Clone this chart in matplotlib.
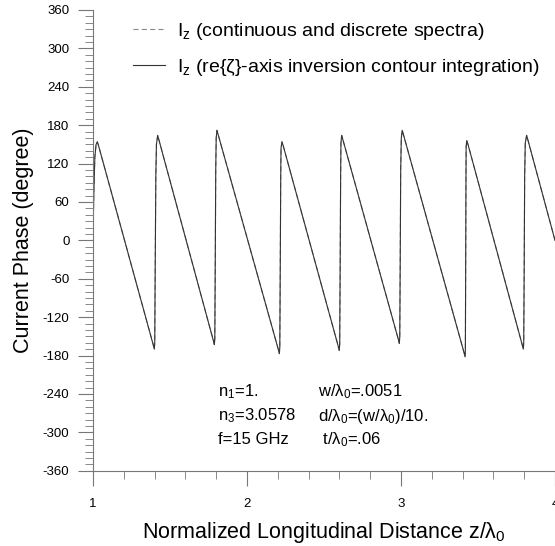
import matplotlib
matplotlib.use("Agg")
import matplotlib.pyplot as plt
from matplotlib.ticker import MultipleLocator, FormatStrFormatter

plt.rcParams["font.family"] = ["Liberation Sans", "DejaVu Sans"]
plt.rcParams["mathtext.fontset"] = "custom"
plt.rcParams["mathtext.rm"] = "Liberation Sans"
plt.rcParams["mathtext.it"] = "Liberation Sans:italic"
plt.rcParams["mathtext.default"] = "regular"
plt.rcParams["axes.unicode_minus"] = False

# points: z/lambda0 and phase (degree)
z = [1.000, 1.006, 1.012, 1.020, 1.028, 1.036,
     1.392, 1.398, 1.401, 1.404, 1.408, 1.412, 1.420, 1.428,
     1.782, 1.788, 1.791, 1.794, 1.797, 1.800, 1.805, 1.813,
     2.204, 2.210, 2.213, 2.216, 2.219, 2.221, 2.227, 2.235,
     2.593, 2.599, 2.602, 2.605, 2.608, 2.610, 2.615, 2.623,
     2.983, 2.989, 2.992, 2.995, 2.998, 3.002, 3.008, 3.016,
     3.410, 3.416, 3.418, 3.420, 3.422, 3.423, 3.427, 3.435,
     3.788, 3.794, 3.797, 3.800, 3.803, 3.807, 3.816, 3.824,
     4.000]
phase = [10, 80, 130, 150, 154, 148,
         -164, -170, -160, -40, 100, 150, 164, 157,
         -157, -163, -153, -30, 110, 160, 172, 165,
         -171, -177, -167, -40, 100, 144, 154, 148,
         -166, -172, -162, -40, 100, 152, 164, 157,
         -155, -161, -151, -30, 110, 160, 172, 165,
         -176, -182, -172, -40, 100, 146, 156, 150,
         -164, -170, -160, -40, 100, 152, 164, 157,
         0]

W, H = 555, 546
fig = plt.figure(figsize=(W / 100, H / 100), dpi=100)
ax = fig.add_axes([93 / W, 75.3 / H, 462 / W, 460.7 / H])

ax.plot(z, phase, color="#888888", lw=0.8, ls=(0, (4.5, 3)),
        label="I$_z$ (continuous and discrete spectra)")
ax.plot(z, phase, color="#333333", lw=0.8,
        label="I$_z$ (re{ζ}-axis inversion contour integration)")

ax.set_xlim(1, 4)
ax.set_ylim(-360, 360)
ax.set_xticks([1, 2, 3, 4])
ax.xaxis.set_minor_locator(MultipleLocator(0.2))
ax.xaxis.set_major_formatter(FormatStrFormatter("%d"))
ax.set_yticks(range(-360, 361, 60))
ax.yaxis.set_minor_locator(MultipleLocator(10))

for s in ["top", "right"]:
    ax.spines[s].set_visible(False)
for s in ["left", "bottom"]:
    ax.spines[s].set_color("#777777")
    ax.spines[s].set_linewidth(0.8)

ax.tick_params(which="major", direction="out", length=11, width=0.8,
               color="#777777", labelsize=9.5, pad=6)
ax.tick_params(which="minor", direction="out", length=6, width=0.7,
               color="#888888")
ax.tick_params(axis="x", which="major", pad=9)

ax.set_xlabel("Normalized Longitudinal Distance z/λ$_0$", fontsize=15.5, labelpad=7)
ax.set_ylabel("Current Phase (degree)", fontsize=15.5, labelpad=6)

ax.legend(loc="upper left", bbox_to_anchor=(133 / W, 1 - 21 / H),
          bbox_transform=fig.transFigure, frameon=False, fontsize=14,
          handlelength=1.65, handletextpad=0.6, labelspacing=0.75,
          borderpad=0, borderaxespad=0)

rows = [392, 416, 440]
left_txt = ["n$_1$=1.", "n$_3$=3.0578", "f=15 GHz"]
right_txt = ["w/λ$_0$=.0051", "d/λ$_0$=(w/λ$_0$)/10.", " t/λ$_0$=.06"]
for y, a, b in zip(rows, left_txt, right_txt):
    fig.text(218 / W, 1 - y / H, a, fontsize=12, va="center", ha="left")
    fig.text(318 / W, 1 - y / H, b, fontsize=12, va="center", ha="left")

fig.savefig("out.png", dpi=100)
